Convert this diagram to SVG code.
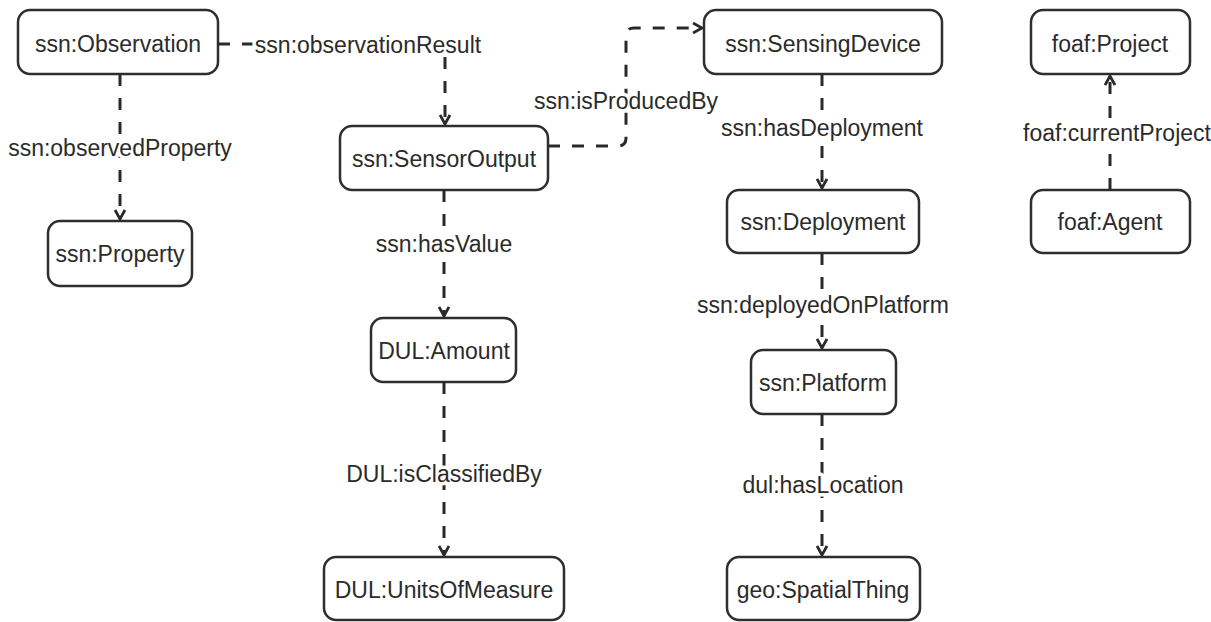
<svg xmlns="http://www.w3.org/2000/svg" width="1211" height="622" viewBox="0 0 1211 622">
<style>
.box{fill:#fff;stroke:#2e2e2e;stroke-width:2.5}
.t{font-family:"Liberation Sans",Arial,sans-serif;font-size:23px;fill:#2b2b2b;text-anchor:middle}
.lbl{font-family:"Liberation Sans",Arial,sans-serif;font-size:23px;fill:#2b2b2b;text-anchor:middle;stroke:#fff;stroke-width:7;paint-order:stroke;stroke-linejoin:round}
.e{fill:none;stroke:#2a2a2a;stroke-width:3;stroke-dasharray:12 12}
</style>
<defs>
<marker id="arr" viewBox="0 0 12 12" refX="11" refY="6" markerWidth="12" markerHeight="12" markerUnits="userSpaceOnUse" orient="auto">
<path d="M2,1 L11,6 L2,11" fill="none" stroke="#2a2a2a" stroke-width="2.8"/>
</marker>
</defs>
<rect width="1211" height="622" fill="#fff"/>
<g id="connectors">
<path class="e" d="M218,44 H445 V124" marker-end="url(#arr)"/>
<path class="e" d="M120,74 V219" marker-end="url(#arr)"/>
<path class="e" d="M548,146 H618 Q626,146 626,138 V36 Q626,28 634,28 H702" marker-end="url(#arr)"/>
<path class="e" d="M444,190 V316" marker-end="url(#arr)"/>
<path class="e" d="M444,382 V555" marker-end="url(#arr)"/>
<path class="e" d="M822,74 V188" marker-end="url(#arr)"/>
<path class="e" d="M822,253 V348" marker-end="url(#arr)"/>
<path class="e" d="M822,414 V555" marker-end="url(#arr)"/>
<path class="e" d="M1110,190 V76" marker-end="url(#arr)"/>
<text class="lbl" x="368" y="53">ssn:observationResult</text>
<text class="lbl" x="120" y="156">ssn:observedProperty</text>
<text class="lbl" x="626" y="109">ssn:isProducedBy</text>
<text class="lbl" x="444" y="252">ssn:hasValue</text>
<text class="lbl" x="444" y="482">DUL:isClassifiedBy</text>
<text class="lbl" x="822" y="136">ssn:hasDeployment</text>
<text class="lbl" x="823" y="313">ssn:deployedOnPlatform</text>
<text class="lbl" x="823" y="493">dul:hasLocation</text>
<text class="lbl" x="1117" y="141">foaf:currentProject</text>
</g>
<g id="observation"><rect class="box" x="18" y="10" width="200" height="64" rx="12"/><text class="t" x="118" y="52">ssn:Observation</text></g>
<g id="property"><rect class="box" x="48" y="221" width="144" height="65" rx="12"/><text class="t" x="120" y="262">ssn:Property</text></g>
<g id="sensoroutput"><rect class="box" x="340" y="126" width="208" height="64" rx="12"/><text class="t" x="444" y="167">ssn:SensorOutput</text></g>
<g id="amount"><rect class="box" x="371" y="318" width="145" height="64" rx="12"/><text class="t" x="444" y="359">DUL:Amount</text></g>
<g id="unitsofmeasure"><rect class="box" x="324" y="557" width="240" height="63" rx="12"/><text class="t" x="444" y="598">DUL:UnitsOfMeasure</text></g>
<g id="sensingdevice"><rect class="box" x="704" y="10" width="238" height="64" rx="12"/><text class="t" x="823" y="52">ssn:SensingDevice</text></g>
<g id="deployment"><rect class="box" x="727" y="190" width="192" height="63" rx="12"/><text class="t" x="823" y="230">ssn:Deployment</text></g>
<g id="platform"><rect class="box" x="751" y="350" width="145" height="64" rx="12"/><text class="t" x="823" y="391">ssn:Platform</text></g>
<g id="spatialthing"><rect class="box" x="727" y="557" width="193" height="63" rx="12"/><text class="t" x="823" y="598">geo:SpatialThing</text></g>
<g id="project"><rect class="box" x="1031" y="10" width="159" height="64" rx="12"/><text class="t" x="1110" y="52">foaf:Project</text></g>
<g id="agent"><rect class="box" x="1031" y="190" width="159" height="63" rx="12"/><text class="t" x="1110" y="230">foaf:Agent</text></g>
</svg>
